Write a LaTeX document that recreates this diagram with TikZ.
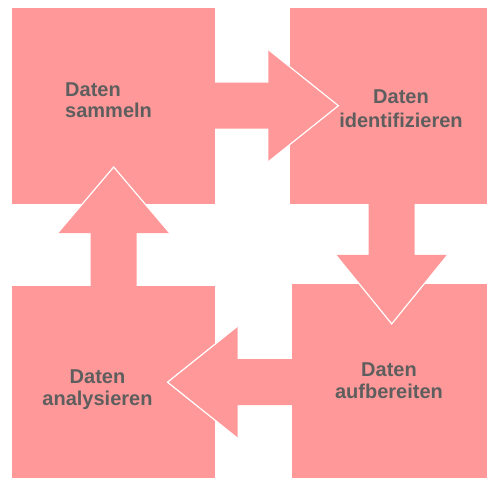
\documentclass[tikz,border=0pt]{standalone}
\usepackage{fontspec}
\setmainfont{Liberation Sans}
\usetikzlibrary{calc}
\definecolor{rosa}{HTML}{FF9999}
\definecolor{slate}{HTML}{5E5E5E}
\tikzset{
  box/.style={fill=rosa,minimum width=203,minimum height=196,inner sep=0,anchor=north west},
  boxtext/.style={text=slate,inner sep=0,align=center,font=\fontsize{20}{22}\selectfont\bfseries},
  rim/.style={draw=white,line width=1.2pt,line join=miter},
  pics/blockarrow/.style args={#1/#2}{code={
    \fill[rosa] (-2,-23) -- ({#1-#2},-23) -- ({#1-#2},-56) -- (#1,0)
      -- ({#1-#2},56) -- ({#1-#2},23) -- (-2,23) -- cycle;
    \draw[rim] ({#1-#2},-56) -- (#1,0) -- ({#1-#2},56);}}}

\begin{document}
\begin{tikzpicture}[x=1pt,y=-1pt]
\useasboundingbox (0,0) rectangle (487,477);
% four stages
\node[box] (collect) at (12,7.5) {};
\node[box] (identify) at (290,7.5) {};
\node[box] (analyse) at (12,286) {};
\node[box] (prepare) at (291.5,284) {};
% cycle arrows
\pic at (collect.east) {blockarrow=123/70};
\pic[rotate=-90] at (identify.south) {blockarrow=120/69};
\pic[rotate=180] at (prepare.west) {blockarrow=124/70};
\pic[rotate=90] at (analyse.north) {blockarrow=119/66};
% texts
\node[boxtext,align=left,anchor=north west,font=\fontsize{20}{21}\selectfont\bfseries] (tcollect) at (65,83) {Daten\\sammeln};
\node[boxtext,anchor=north,font=\fontsize{20}{24}\selectfont\bfseries] (tidentify) at (401,90) {Daten\\identifizieren};
\node[boxtext,anchor=north] (tanalyse) at (97.5,370) {Daten\\analysieren};
\node[boxtext,anchor=north] (tprepare) at (389,363) {Daten\\aufbereiten};
\end{tikzpicture}
\end{document}
